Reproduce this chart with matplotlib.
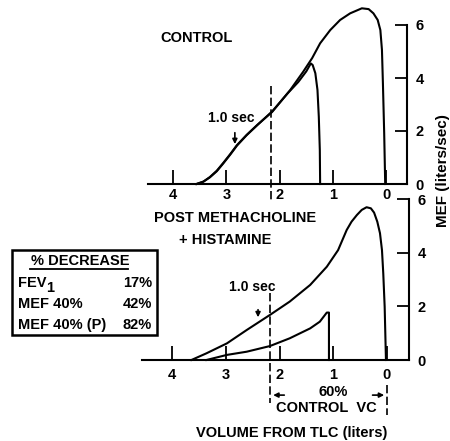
import matplotlib
matplotlib.use("Agg")
import matplotlib.pyplot as plt
from matplotlib.patches import Rectangle
from matplotlib.lines import Line2D

plt.rcParams['font.family'] = ['Liberation Sans', 'DejaVu Sans']
plt.rcParams['font.weight'] = 'bold'

# 数据：体积(升, 从TLC算起) 与 最大呼气流速 MEF (升/秒)
ctrl_v = [3.56, 3.43, 3.31, 3.18, 3.06, 2.93, 2.80, 2.62, 2.42, 2.14, 1.80, 1.56, 1.39, 1.24, 1.05,
          0.865, 0.677, 0.457, 0.33, 0.24, 0.16, 0.11, 0.08, 0.062, 0.038, 0.019]
ctrl_f = [0.0, 0.09, 0.26, 0.50, 0.79, 1.12, 1.47, 1.85, 2.23, 2.72, 3.55, 4.23, 4.75, 5.31, 5.81,
          6.19, 6.44, 6.63, 6.60, 6.44, 6.19, 5.81, 5.06, 3.80, 1.92, 0.0]
ctrl_p_v = [3.56, 3.43, 3.31, 3.18, 3.06, 2.93, 2.80, 2.62, 2.42, 2.14, 1.85, 1.65, 1.50, 1.415,
            1.38, 1.33, 1.29, 1.265, 1.246, 1.24]
ctrl_p_f = [0.0, 0.09, 0.25, 0.48, 0.77, 1.10, 1.45, 1.84, 2.22, 2.74, 3.42, 3.85, 4.25, 4.55,
            4.49, 4.18, 3.55, 2.54, 1.28, 0.0]

post_v = [3.64, 3.36, 2.98, 2.61, 2.18, 1.81, 1.43, 1.12, 0.91, 0.75, 0.66, 0.56, 0.47, 0.38, 0.30,
          0.24, 0.18, 0.13, 0.093, 0.069, 0.043, 0.019]
post_f = [0.0, 0.25, 0.62, 1.12, 1.68, 2.18, 2.80, 3.48, 4.10, 4.85, 5.16, 5.41, 5.60, 5.70, 5.66,
          5.50, 5.16, 4.73, 4.10, 3.23, 1.99, 0.0]
post_p_v = [3.36, 2.98, 2.61, 2.18, 1.81, 1.43, 1.25, 1.12, 1.08, 1.08]
post_p_f = [0.0, 0.19, 0.31, 0.52, 0.81, 1.18, 1.43, 1.77, 1.77, 0.0]

vol_ticks = [4, 3, 2, 1, 0]
mef_ticks = [0, 2, 4, 6]
vc60 = 2.17
one_sec_ctrl = 2.84
one_sec_post = 2.40

table_rows = ['FEV', 'MEF 40%', 'MEF 40% (P)']
table_vals = ['17%', '42%', '82%']

W, H = 450, 441
fig = plt.figure(figsize=(4.5, 4.41), dpi=100)


def fx(px):
    return px / W


def fy(py):
    return 1 - py / H


def setup(ax, xlim, ylim, pad):
    ax.set_xlim(*xlim)
    ax.set_ylim(*ylim)
    ax.patch.set_visible(False)
    for s in ['left', 'top']:
        ax.spines[s].set_visible(False)
    ax.spines['bottom'].set_linewidth(1.5)
    ax.spines['right'].set_linewidth(1.5)
    ax.spines['right'].set_bounds(0, 6)
    ax.set_xticks(vol_ticks)
    ax.set_yticks(mef_ticks)
    ax.yaxis.tick_right()
    ax.tick_params(axis='x', direction='in', length=10, width=1.3, pad=pad, labelsize=10.5)
    ax.tick_params(axis='y', direction='in', length=9, width=1.3, pad=6, labelsize=10.5)


# 上图：对照
ax1 = fig.add_axes([fx(148), fy(184), 259 / W, 6.9 * 26.5 / H])
setup(ax1, (4.47, -0.39), (0, 6.9), 3)
ax1.plot(ctrl_v, ctrl_f, color='black', lw=1.5, clip_on=False)
ax1.plot(ctrl_p_v, ctrl_p_f, color='black', lw=1.5, clip_on=False)
ax1.plot([vc60, vc60], [3.7, -0.6], color='black', lw=1.2, dashes=(5, 2), clip_on=False)
ax1.annotate('', xy=(one_sec_ctrl, 1.40), xytext=(one_sec_ctrl, 2.04),
             arrowprops=dict(arrowstyle='-|>', color='black', lw=1.2, mutation_scale=7))
ax1.text(2.91, 2.49, '1.0 sec', ha='center', va='center', fontsize=10)

# 下图：乙酰甲胆碱+组胺后
ax2 = fig.add_axes([fx(142), fy(360), 267 / W, 6.2 * 26.8 / H])
setup(ax2, (4.56, -0.41), (0, 6.2), 5.5)
ax2.plot(post_v, post_f, color='black', lw=1.5, clip_on=False)
ax2.plot(post_p_v, post_p_f, color='black', lw=1.5, clip_on=False)
ax2.plot([vc60, vc60], [2.5, -1.6], color='black', lw=1.2, dashes=(5, 2), clip_on=False)
ax2.plot([0.0, 0.0], [-0.93, -2.05], color='black', lw=1.2, dashes=(5, 2), clip_on=False)
ax2.annotate('', xy=(one_sec_post, 1.49), xytext=(one_sec_post, 1.98),
             arrowprops=dict(arrowstyle='-|>', color='black', lw=1.2, mutation_scale=7))
ax2.text(2.50, 2.72, '1.0 sec', ha='center', va='center', fontsize=10)
ax2.annotate('', xy=(vc60, -1.31), xytext=(1.86, -1.31), annotation_clip=False,
             arrowprops=dict(arrowstyle='-|>', color='black', lw=1.2, mutation_scale=7))
ax2.annotate('', xy=(0.0, -1.31), xytext=(0.32, -1.31), annotation_clip=False,
             arrowprops=dict(arrowstyle='-|>', color='black', lw=1.2, mutation_scale=7))

# 文字
fig.text(fx(160), fy(38), 'CONTROL', ha='left', va='center', fontsize=10.5)
fig.text(fx(235), fy(218), 'POST METHACHOLINE', ha='center', va='center', fontsize=10.5)
fig.text(fx(225), fy(240), '+ HISTAMINE', ha='center', va='center', fontsize=10.5)
fig.text(fx(443), fy(171), 'MEF (liters/sec)', ha='center', va='center', rotation=90, fontsize=11)
fig.text(fx(333), fy(392), '60%', ha='center', va='center', fontsize=10.5)
fig.text(fx(326), fy(408), 'CONTROL  VC', ha='center', va='center', fontsize=10.5)
fig.text(fx(292), fy(433), 'VOLUME FROM TLC (liters)', ha='center', va='center', fontsize=10.5)

# 表格框
fig.add_artist(Rectangle((fx(12), fy(335)), (157 - 12) / W, (335 - 250) / H,
                         transform=fig.transFigure, fill=False, lw=1.8, color='black'))
fig.text(fx(80), fy(261), '% DECREASE', ha='center', va='center', fontsize=10.5)
fig.add_artist(Line2D([fx(30), fx(128)], [fy(269), fy(269)], transform=fig.transFigure,
                      color='black', lw=1.3))
row_y = [283, 304, 325]
for name, val, y in zip(table_rows, table_vals, row_y):
    fig.text(fx(18), fy(y), name, ha='left', va='center', fontsize=10.5)
    fig.text(fx(152), fy(y), val, ha='right', va='center', fontsize=10.5)
fig.text(fx(46), fy(288), '1', ha='left', va='center', fontsize=10.5)

fig.savefig('out.png', dpi=100)
